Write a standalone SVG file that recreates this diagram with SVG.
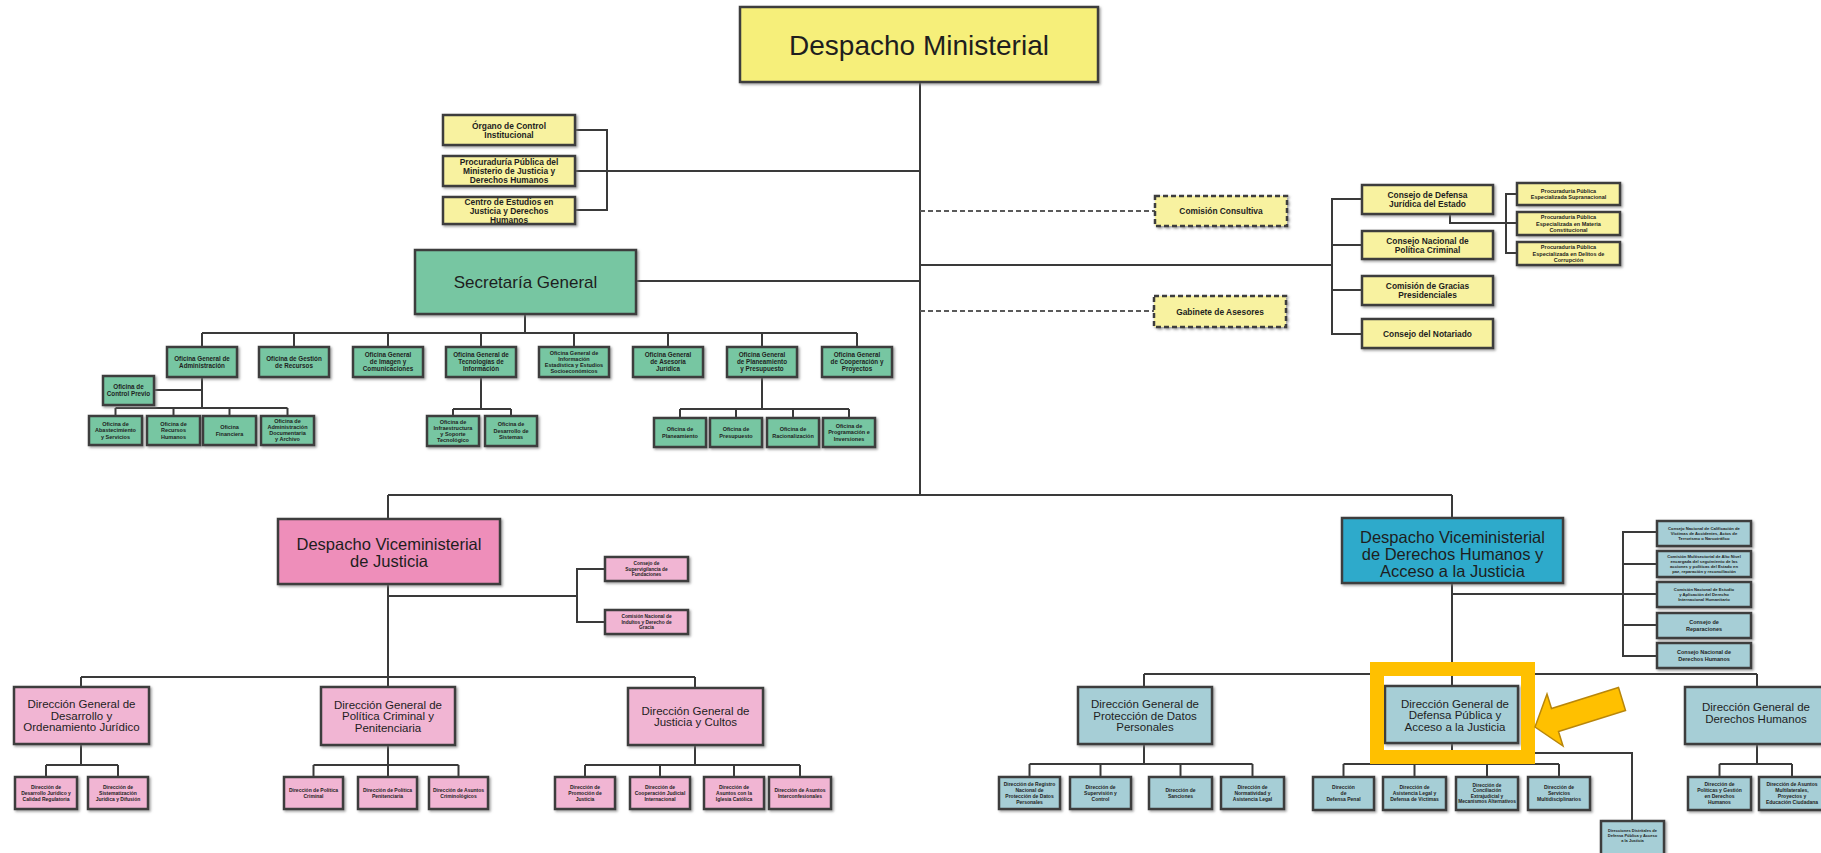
<svg xmlns="http://www.w3.org/2000/svg" width="1821" height="853" viewBox="0 0 1821 853">
<defs>
<filter id="sh" x="-10%" y="-10%" width="130%" height="140%"><feDropShadow dx="1.5" dy="1.5" stdDeviation="0.8" flood-color="#777" flood-opacity="0.7"/></filter>
</defs>
<style>
.c{fill:none;stroke:#3a3a3a;stroke-width:2}
.dl{fill:none;stroke:#5a5a5a;stroke-width:2;stroke-dasharray:5 3}
rect{stroke:#3c3c3c;stroke-width:2.5;filter:url(#sh)}
.ym{fill:#F6EF7A}
.y{fill:#F8F2A0}
.yd{fill:#F8F2A0;stroke-dasharray:5 3}
.g{fill:#77C6A2}
.pv{fill:#EE8EBA}
.p{fill:#F1B5D3}
.bv{fill:#2FAACB}
.b{fill:#A6CED6}
text{font-family:"Liberation Sans",Arial,sans-serif;fill:#1e1e1e;text-anchor:middle}
.t28{font-size:28px}
.t17{font-size:17px}
.t16{font-size:16.5px}
.t11{font-size:11.5px}
.t8{font-size:8.4px;font-weight:bold}
.t6{font-size:6.3px;font-weight:bold}
.t55{font-size:5.5px;font-weight:bold}
.t5{font-size:5px;font-weight:bold}
.t45{font-size:4.8px;font-weight:bold}
.t42{font-size:4.2px;font-weight:bold}
.t4{font-size:4px;font-weight:bold}
.hl{fill:none;stroke:#FFC000;stroke-width:14;filter:none}
</style>

<g id="connectors">
<path class="c" d="M920,82V495M575,171H920M575,130H607V210H575M636,281H920"/>
<path class="c" d="M920,265H1332M1362,199H1332V334H1362M1332,245H1362M1332,290H1362"/>
<path class="c" d="M1517,194H1506V253H1517M1450,214V223H1517"/>
<path class="dl" d="M920,211H1155M920,311H1154"/>
<path class="c" d="M525,314V333M202,333H857M202,333V347M294,333V347M388,333V347M481,333V347M574,333V347M668,333V347M762,333V347M857,333V347"/>
<path class="c" d="M202,377V408M154,390H202M115.5,408H287.5M115.5,408V416M173.5,408V416M229.5,408V416M287.5,408V416"/>
<path class="c" d="M481,377V409M453,409H511M453,409V416M511,409V416"/>
<path class="c" d="M762,377V409M680,409H849M680,409V418M736,409V418M793,409V418M849,409V418"/>
<path class="c" d="M388,495H1452M388,495V519M1452,495V518"/>
<path class="c" d="M388,584V677M388,596H577M605,569H577V622H605"/>
<path class="c" d="M81,677H695M81,677V687M388,677V687M695,677V688"/>
<path class="c" d="M81,744V765M46,765H118M46,765V777M118,765V777"/>
<path class="c" d="M388,745V765M313.5,765H458.5M313.5,765V777M388,765V777M458.5,765V777"/>
<path class="c" d="M695,745V765M585,765H800M585,765V777M660,765V777M734,765V777M800,765V777"/>
<path class="c" d="M1452,583V674M1452,594H1623M1657,532H1623V656H1657M1623,564H1657M1623,594H1657M1623,625H1657"/>
<path class="c" d="M1144,674H1757M1144,674V687M1452,674V686M1757,674V687"/>
<path class="c" d="M1144,744V764M1029.5,764H1252.5M1029.5,764V777M1100.5,764V777M1180.5,764V777M1252.5,764V777"/>
<path class="c" d="M1452,743V764M1343.5,764H1559M1343.5,764V777M1414.5,764V777M1487,764V777M1559,764V777M1452,753H1632V821"/>
<path class="c" d="M1757,744V764M1719.5,764H1792M1719.5,764V777M1792,764V777"/>
</g>

<g id="despacho-ministerial"><rect class="ym" x="740" y="7" width="358" height="75"/><text class="t28" x="919" y="54.5">Despacho Ministerial</text></g>

<g id="organo-control"><rect class="y" x="443" y="115" width="132" height="30"/><text class="t8" x="509" y="128.5">Órgano de Control</text><text class="t8" x="509" y="137.5">Institucional</text></g>
<g id="procuraduria"><rect class="y" x="443" y="156" width="132" height="30"/><text class="t8" x="509" y="165">Procuraduría Pública del</text><text class="t8" x="509" y="174">Ministerio de Justicia y</text><text class="t8" x="509" y="183">Derechos Humanos</text></g>
<g id="centro-estudios"><rect class="y" x="443" y="197" width="132" height="27"/><text class="t8" x="509" y="204.5">Centro de Estudios en</text><text class="t8" x="509" y="213.5">Justicia y Derechos</text><text class="t8" x="509" y="222.5">Humanos</text></g>

<g id="comision-consultiva"><rect class="yd" x="1155" y="196" width="132" height="30"/><text class="t8" x="1221" y="214">Comisión Consultiva</text></g>
<g id="gabinete-asesores"><rect class="yd" x="1154" y="296" width="132" height="31"/><text class="t8" x="1220" y="314.5">Gabinete de Asesores</text></g>

<g id="consejo-defensa"><rect class="y" x="1362" y="185" width="131" height="29"/><text class="t8" x="1427.5" y="198">Consejo de Defensa</text><text class="t8" x="1427.5" y="207">Jurídica del Estado</text></g>
<g id="consejo-politica-criminal"><rect class="y" x="1362" y="231" width="131" height="28"/><text class="t8" x="1427.5" y="243.5">Consejo Nacional de</text><text class="t8" x="1427.5" y="252.5">Política Criminal</text></g>
<g id="comision-gracias"><rect class="y" x="1362" y="276" width="131" height="29"/><text class="t8" x="1427.5" y="289">Comisión de Gracias</text><text class="t8" x="1427.5" y="298">Presidenciales</text></g>
<g id="consejo-notariado"><rect class="y" x="1362" y="319" width="131" height="29"/><text class="t8" x="1427.5" y="336.5">Consejo del Notariado</text></g>

<g id="proc-supranacional"><rect class="y" x="1517" y="183" width="103" height="22"/><text class="t55" x="1568.5" y="192.7">Procuraduría Pública</text><text class="t55" x="1568.5" y="199.2">Especializada Supranacional</text></g>
<g id="proc-constitucional"><rect class="y" x="1517" y="212" width="103" height="23"/><text class="t55" x="1568.5" y="219.4">Procuraduría Pública</text><text class="t55" x="1568.5" y="225.9">Especializada en Materia</text><text class="t55" x="1568.5" y="232.4">Constitucional</text></g>
<g id="proc-corrupcion"><rect class="y" x="1517" y="242" width="103" height="23"/><text class="t55" x="1568.5" y="249.4">Procuraduría Pública</text><text class="t55" x="1568.5" y="255.9">Especializada en Delitos de</text><text class="t55" x="1568.5" y="262.4">Corrupción</text></g>

<g id="secretaria-general"><rect class="g" x="415" y="250" width="221" height="64"/><text class="t17" x="525.5" y="288">Secretaría General</text></g>

<g id="og-administracion"><rect class="g" x="167" y="347" width="70" height="30"/><text class="t6" x="202" y="360.7">Oficina General de</text><text class="t6" x="202" y="367.7">Administración</text></g>
<g id="of-gestion-recursos"><rect class="g" x="259" y="347" width="70" height="30"/><text class="t6" x="294" y="360.7">Oficina de Gestión</text><text class="t6" x="294" y="367.7">de Recursos</text></g>
<g id="og-imagen"><rect class="g" x="353" y="347" width="70" height="30"/><text class="t6" x="388" y="357.2">Oficina General</text><text class="t6" x="388" y="364.2">de Imagen y</text><text class="t6" x="388" y="371.2">Comunicaciones</text></g>
<g id="og-tecnologias"><rect class="g" x="446" y="347" width="70" height="30"/><text class="t6" x="481" y="357.2">Oficina General de</text><text class="t6" x="481" y="364.2">Tecnologías de</text><text class="t6" x="481" y="371.2">Información</text></g>
<g id="og-informacion"><rect class="g" x="539" y="347" width="70" height="30"/><text class="t55" x="574" y="354.9">Oficina General de</text><text class="t55" x="574" y="360.9">Información</text><text class="t55" x="574" y="366.9">Estadística y Estudios</text><text class="t55" x="574" y="372.9">Socioeconómicos</text></g>
<g id="og-asesoria"><rect class="g" x="633" y="347" width="70" height="30"/><text class="t6" x="668" y="357.2">Oficina General</text><text class="t6" x="668" y="364.2">de Asesoría</text><text class="t6" x="668" y="371.2">Jurídica</text></g>
<g id="og-planeamiento"><rect class="g" x="727" y="347" width="70" height="30"/><text class="t6" x="762" y="357.2">Oficina General</text><text class="t6" x="762" y="364.2">de Planeamiento</text><text class="t6" x="762" y="371.2">y Presupuesto</text></g>
<g id="og-cooperacion"><rect class="g" x="822" y="347" width="70" height="30"/><text class="t6" x="857" y="357.2">Oficina General</text><text class="t6" x="857" y="364.2">de Cooperación y</text><text class="t6" x="857" y="371.2">Proyectos</text></g>

<g id="of-control-previo"><rect class="g" x="103" y="376" width="51" height="29"/><text class="t6" x="128.5" y="388.7">Oficina de</text><text class="t6" x="128.5" y="395.7">Control Previo</text></g>
<g id="of-abastecimiento"><rect class="g" x="89" y="416" width="53" height="29"/><text class="t55" x="115.5" y="425.9">Oficina de</text><text class="t55" x="115.5" y="432.4">Abastecimiento</text><text class="t55" x="115.5" y="438.9">y Servicios</text></g>
<g id="of-recursos-humanos"><rect class="g" x="147" y="416" width="53" height="29"/><text class="t55" x="173.5" y="425.9">Oficina de</text><text class="t55" x="173.5" y="432.4">Recursos</text><text class="t55" x="173.5" y="438.9">Humanos</text></g>
<g id="of-financiera"><rect class="g" x="203" y="416" width="53" height="29"/><text class="t55" x="229.5" y="429.2">Oficina</text><text class="t55" x="229.5" y="435.7">Financiera</text></g>
<g id="of-documentaria"><rect class="g" x="261" y="416" width="53" height="29"/><text class="t55" x="287.5" y="423.4">Oficina de</text><text class="t55" x="287.5" y="429.4">Administración</text><text class="t55" x="287.5" y="435.4">Documentaria</text><text class="t55" x="287.5" y="441.4">y Archivo</text></g>
<g id="of-infraestructura"><rect class="g" x="427" y="416" width="52" height="30"/><text class="t55" x="453" y="423.9">Oficina de</text><text class="t55" x="453" y="429.9">Infraestructura</text><text class="t55" x="453" y="435.9">y Soporte</text><text class="t55" x="453" y="441.9">Tecnológico</text></g>
<g id="of-sistemas"><rect class="g" x="485" y="416" width="52" height="30"/><text class="t55" x="511" y="426.4">Oficina de</text><text class="t55" x="511" y="432.9">Desarrollo de</text><text class="t55" x="511" y="439.4">Sistemas</text></g>
<g id="of-planeamiento"><rect class="g" x="654" y="418" width="52" height="29"/><text class="t55" x="680" y="431.2">Oficina de</text><text class="t55" x="680" y="437.7">Planeamiento</text></g>
<g id="of-presupuesto"><rect class="g" x="710" y="418" width="52" height="29"/><text class="t55" x="736" y="431.2">Oficina de</text><text class="t55" x="736" y="437.7">Presupuesto</text></g>
<g id="of-racionalizacion"><rect class="g" x="767" y="418" width="52" height="29"/><text class="t55" x="793" y="431.2">Oficina de</text><text class="t55" x="793" y="437.7">Racionalización</text></g>
<g id="of-programacion"><rect class="g" x="823" y="418" width="52" height="29"/><text class="t55" x="849" y="427.9">Oficina de</text><text class="t55" x="849" y="434.4">Programación e</text><text class="t55" x="849" y="440.9">Inversiones</text></g>

<g id="vice-justicia"><rect class="pv" x="278" y="519" width="222" height="65"/><text class="t16" x="389" y="550">Despacho Viceministerial</text><text class="t16" x="389" y="567">de Justicia</text></g>
<g id="vj-consejo"><rect class="p" x="605" y="557" width="83" height="24"/><text class="t45" x="646.5" y="565.2">Consejo de</text><text class="t45" x="646.5" y="570.7">Supervigilancia de</text><text class="t45" x="646.5" y="576.2">Fundaciones</text></g>
<g id="vj-comision"><rect class="p" x="605" y="610" width="83" height="24"/><text class="t45" x="646.5" y="618.2">Comisión Nacional de</text><text class="t45" x="646.5" y="623.7">Indultos y Derecho de</text><text class="t45" x="646.5" y="629.2">Gracia</text></g>

<g id="dg-desarrollo"><rect class="p" x="14" y="687" width="135" height="57"/><text class="t11" x="81.5" y="708">Dirección General de</text><text class="t11" x="81.5" y="719.5">Desarrollo y</text><text class="t11" x="81.5" y="731">Ordenamiento Jurídico</text></g>
<g id="dg-politica"><rect class="p" x="321" y="687" width="134" height="58"/><text class="t11" x="388" y="708.5">Dirección General de</text><text class="t11" x="388" y="720">Política Criminal y</text><text class="t11" x="388" y="731.5">Penitenciaria</text></g>
<g id="dg-justicia"><rect class="p" x="628" y="688" width="135" height="57"/><text class="t11" x="695.5" y="714.5">Dirección General de</text><text class="t11" x="695.5" y="726">Justicia y Cultos</text></g>

<g id="d-desarrollo"><rect class="p" x="15" y="777" width="62" height="32"/><text class="t5" x="46" y="788.8">Dirección de</text><text class="t5" x="46" y="794.8">Desarrollo Jurídico y</text><text class="t5" x="46" y="800.8">Calidad Regulatoria</text></g>
<g id="d-sistematizacion"><rect class="p" x="88" y="777" width="60" height="32"/><text class="t5" x="118" y="788.8">Dirección de</text><text class="t5" x="118" y="794.8">Sistematización</text><text class="t5" x="118" y="800.8">Jurídica y Difusión</text></g>
<g id="d-politica-criminal"><rect class="p" x="284" y="777" width="59" height="32"/><text class="t5" x="313.5" y="791.8">Dirección de Política</text><text class="t5" x="313.5" y="797.8">Criminal</text></g>
<g id="d-politica-penitenciaria"><rect class="p" x="358" y="777" width="59" height="32"/><text class="t5" x="387.5" y="791.8">Dirección de Política</text><text class="t5" x="387.5" y="797.8">Penitenciaria</text></g>
<g id="d-criminologicos"><rect class="p" x="429" y="777" width="59" height="32"/><text class="t5" x="458.5" y="791.8">Dirección de Asuntos</text><text class="t5" x="458.5" y="797.8">Criminológicos</text></g>
<g id="d-promocion"><rect class="p" x="555" y="777" width="60" height="32"/><text class="t5" x="585" y="788.8">Dirección de</text><text class="t5" x="585" y="794.8">Promoción de</text><text class="t5" x="585" y="800.8">Justicia</text></g>
<g id="d-cooperacion"><rect class="p" x="630" y="777" width="60" height="32"/><text class="t5" x="660" y="788.8">Dirección de</text><text class="t5" x="660" y="794.8">Cooperación Judicial</text><text class="t5" x="660" y="800.8">Internacional</text></g>
<g id="d-iglesia"><rect class="p" x="704" y="777" width="60" height="32"/><text class="t5" x="734" y="788.8">Dirección de</text><text class="t5" x="734" y="794.8">Asuntos con la</text><text class="t5" x="734" y="800.8">Iglesia Católica</text></g>
<g id="d-interconfesionales"><rect class="p" x="769" y="777" width="62" height="32"/><text class="t5" x="800" y="791.8">Dirección de Asuntos</text><text class="t5" x="800" y="797.8">Interconfesionales</text></g>

<g id="vice-ddhh"><rect class="bv" x="1342" y="518" width="221" height="65"/><text class="t16" x="1452.5" y="543">Despacho Viceministerial</text><text class="t16" x="1452.5" y="560">de Derechos Humanos y</text><text class="t16" x="1452.5" y="577">Acceso a la Justicia</text></g>
<g id="vd-calificacion"><rect class="b" x="1657" y="521" width="94" height="25"/><text class="t42" x="1704" y="530">Consejo Nacional de Calificación de</text><text class="t42" x="1704" y="535">Víctimas de Accidentes, Actos de</text><text class="t42" x="1704" y="540">Terrorismo o Narcotráfico</text></g>
<g id="vd-multisectorial"><rect class="b" x="1657" y="551" width="94" height="26"/><text class="t42" x="1704" y="558">Comisión Multisectorial de Alto Nivel</text><text class="t42" x="1704" y="563">encargada del seguimiento de las</text><text class="t42" x="1704" y="568">acciones y políticas del Estado en</text><text class="t42" x="1704" y="573">paz, reparación y reconciliación</text></g>
<g id="vd-dih"><rect class="b" x="1657" y="582" width="94" height="25"/><text class="t42" x="1704" y="591">Comisión Nacional de Estudio</text><text class="t42" x="1704" y="596">y Aplicación del Derecho</text><text class="t42" x="1704" y="601">Internacional Humanitario</text></g>
<g id="vd-reparaciones"><rect class="b" x="1657" y="613" width="94" height="25"/><text class="t55" x="1704" y="624.2">Consejo de</text><text class="t55" x="1704" y="630.7">Reparaciones</text></g>
<g id="vd-consejo-ddhh"><rect class="b" x="1657" y="643" width="94" height="25"/><text class="t55" x="1704" y="654.2">Consejo Nacional de</text><text class="t55" x="1704" y="660.7">Derechos Humanos</text></g>

<g id="dg-proteccion"><rect class="b" x="1078" y="687" width="134" height="57"/><text class="t11" x="1145" y="708">Dirección General de</text><text class="t11" x="1145" y="719.5">Protección de Datos</text><text class="t11" x="1145" y="731">Personales</text></g>
<g id="dg-defensa"><rect class="b" x="1385" y="686" width="133" height="57"/><text class="t11" x="1455" y="707.5">Dirección General de</text><text class="t11" x="1455" y="719">Defensa Pública y</text><text class="t11" x="1455" y="730.5">Acceso a la Justicia</text></g>
<g id="dg-ddhh"><rect class="b" x="1685" y="687" width="142" height="57"/><text class="t11" x="1756" y="711">Dirección General de</text><text class="t11" x="1756" y="722.5">Derechos Humanos</text></g>

<g id="d-registro"><rect class="b" x="999" y="777" width="61" height="32"/><text class="t5" x="1029.5" y="785.8">Dirección de Registro</text><text class="t5" x="1029.5" y="791.8">Nacional de</text><text class="t5" x="1029.5" y="797.8">Protección de Datos</text><text class="t5" x="1029.5" y="803.8">Personales</text></g>
<g id="d-supervision"><rect class="b" x="1070" y="777" width="61" height="32"/><text class="t5" x="1100.5" y="788.8">Dirección de</text><text class="t5" x="1100.5" y="794.8">Supervisión y</text><text class="t5" x="1100.5" y="800.8">Control</text></g>
<g id="d-sanciones"><rect class="b" x="1149" y="777" width="63" height="32"/><text class="t5" x="1180.5" y="791.8">Dirección de</text><text class="t5" x="1180.5" y="797.8">Sanciones</text></g>
<g id="d-normatividad"><rect class="b" x="1221" y="777" width="63" height="32"/><text class="t5" x="1252.5" y="788.8">Dirección de</text><text class="t5" x="1252.5" y="794.8">Normatividad y</text><text class="t5" x="1252.5" y="800.8">Asistencia Legal</text></g>
<g id="d-defensa-penal"><rect class="b" x="1313" y="777" width="61" height="33"/><text class="t5" x="1343.5" y="789.3">Dirección</text><text class="t5" x="1343.5" y="795.3">de</text><text class="t5" x="1343.5" y="801.3">Defensa Penal</text></g>
<g id="d-asistencia-legal"><rect class="b" x="1383" y="777" width="63" height="33"/><text class="t5" x="1414.5" y="789.3">Dirección de</text><text class="t5" x="1414.5" y="795.3">Asistencia Legal y</text><text class="t5" x="1414.5" y="801.3">Defensa de Víctimas</text></g>
<g id="d-conciliacion"><rect class="b" x="1456" y="777" width="62" height="33"/><text class="t45" x="1487" y="786.5">Dirección de</text><text class="t45" x="1487" y="792">Conciliación</text><text class="t45" x="1487" y="797.5">Extrajudicial y</text><text class="t45" x="1487" y="803">Mecanismos Alternativos</text></g>
<g id="d-multidisciplinarios"><rect class="b" x="1528" y="777" width="62" height="33"/><text class="t5" x="1559" y="789.3">Dirección de</text><text class="t5" x="1559" y="795.3">Servicios</text><text class="t5" x="1559" y="801.3">Multidisciplinarios</text></g>
<g id="d-distritales"><rect class="b" x="1601" y="821" width="63" height="34"/><text class="t4" x="1632.5" y="832">Direcciones Distritales de</text><text class="t4" x="1632.5" y="837">Defensa Pública y Acceso</text><text class="t4" x="1632.5" y="842">a la Justicia</text></g>
<g id="d-politicas-ddhh"><rect class="b" x="1688" y="777" width="63" height="33"/><text class="t5" x="1719.5" y="786.3">Dirección de</text><text class="t5" x="1719.5" y="792.3">Políticas y Gestión</text><text class="t5" x="1719.5" y="798.3">en Derechos</text><text class="t5" x="1719.5" y="804.3">Humanos</text></g>
<g id="d-asuntos-multilaterales"><rect class="b" x="1759" y="777" width="66" height="33"/><text class="t5" x="1792" y="786.3">Dirección de Asuntos</text><text class="t5" x="1792" y="792.3">Multilaterales,</text><text class="t5" x="1792" y="798.3">Proyectos y</text><text class="t5" x="1792" y="804.3">Educación Ciudadana</text></g>

<g id="highlight"><rect class="hl" x="1377" y="669" width="151" height="88"/><polygon points="1535,727 1547,694 1551.5,708.5 1618.5,687.5 1625.5,710.5 1558.5,731.5 1563,746" fill="#FFC000" stroke="#B8860B" stroke-width="1.5" stroke-linejoin="miter"/></g>
</svg>
